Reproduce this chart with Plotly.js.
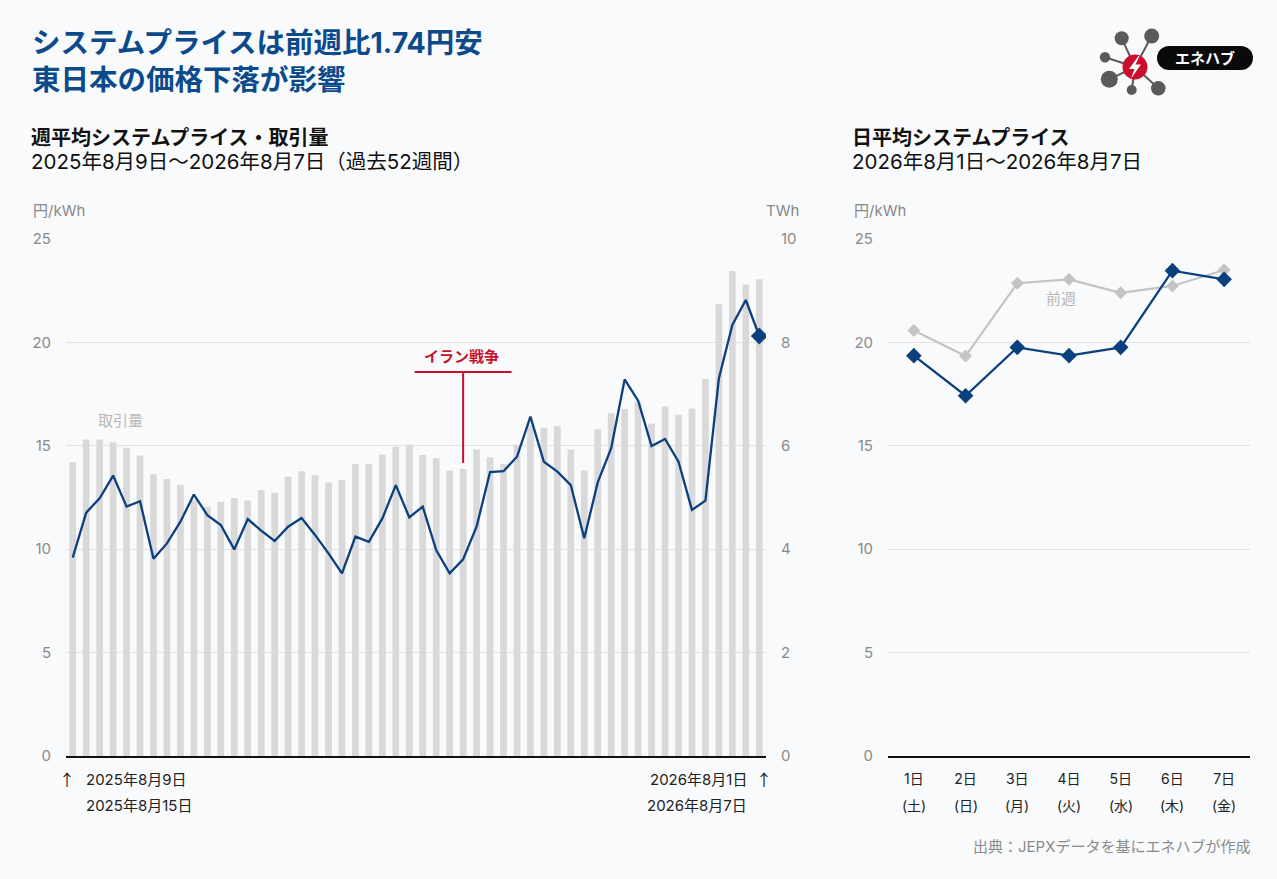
<!DOCTYPE html>
<html>
<head>
<meta charset="utf-8">
<script src="https://cdn.plot.ly/plotly-3.0.1.min.js"></script>
<style>
  html, body { margin: 0; padding: 0; background: #f9fafb; }
  #chart { width: 1277px; height: 879px; }
</style>
</head>
<body>
<div id="chart"></div>
<script>
// ---------- data ----------
// weekly traded volume (TWh), 52 weeks 2025-08-09 .. 2026-08-07
const weeklyVolume = [5.68, 6.12, 6.12, 6.07, 5.96, 5.81, 5.45, 5.36, 5.24, 4.95,
  4.82, 4.92, 4.99, 4.94, 5.14, 5.09, 5.40, 5.51, 5.43, 5.29,
  5.34, 5.65, 5.65, 5.83, 5.98, 6.02, 5.82, 5.76, 5.52, 5.55,
  5.93, 5.78, 5.65, 6.02, 6.40, 6.35, 6.38, 5.93, 5.52, 6.32,
  6.63, 6.71, 6.85, 6.43, 6.76, 6.60, 6.72, 7.29, 8.74, 9.38,
  9.12, 9.22];
// weekly average system price (yen/kWh)
const weeklyPrice = [9.59, 11.77, 12.46, 13.56, 12.06, 12.32, 9.54, 10.28, 11.33, 12.64,
  11.65, 11.17, 9.99, 11.46, 10.90, 10.40, 11.09, 11.51, 10.69, 9.80,
  8.83, 10.61, 10.36, 11.49, 13.10, 11.54, 12.06, 9.96, 8.83, 9.51,
  11.09, 13.73, 13.77, 14.47, 16.41, 14.23, 13.75, 13.10, 10.53, 13.23,
  14.88, 18.21, 17.18, 14.99, 15.33, 14.23, 11.90, 12.35, 18.26, 20.84,
  22.05, 20.31];
const weekIndex = weeklyVolume.map((_, i) => i);
const iranWarWeek = 29;

// daily average system price
const days = ['1日', '2日', '3日', '4日', '5日', '6日', '7日'];
const weekdays = ['(土)', '(日)', '(月)', '(火)', '(水)', '(木)', '(金)'];
const dailyThisWeek = [19.36, 17.42, 19.76, 19.36, 19.76, 23.47, 23.05];
const dailyPrevWeek = [20.57, 19.34, 22.86, 23.05, 22.40, 22.73, 23.50];

const priceTicks = [0, 5, 10, 15, 20, 25];
const volumeTicks = [0, 2, 4, 6, 8, 10];

// ---------- helpers ----------
const W = 1277, H = 879;
const FONT = 'Inter, "Noto Sans CJK JP", sans-serif';
const CJK = '"Noto Sans CJK JP", sans-serif';
const BLUE = '#0b3f7d';
const TITLE_BLUE = '#0c4a8c';
const RED = '#c8102e';
const px = x => x / W;
const py = y => 1 - y / H;

function txt(text, x, y, opts) {
  opts = opts || {};
  return Object.assign({
    text: text, xref: 'paper', yref: 'paper', x: px(x), y: py(y),
    xanchor: 'left', yanchor: 'middle', showarrow: false,
    font: { family: FONT, size: 15, color: '#222' }
  }, opts);
}
function circ(cx, cy, r, color) {
  return { type: 'circle', xref: 'paper', yref: 'paper',
    x0: px(cx - r), x1: px(cx + r), y0: py(cy + r), y1: py(cy - r),
    fillcolor: color, line: { width: 0 } };
}
function seg(x0, y0, x1, y1, color, w) {
  return { type: 'line', xref: 'paper', yref: 'paper',
    x0: px(x0), y0: py(y0), x1: px(x1), y1: py(y1),
    line: { color: color, width: w } };
}

const yDom = [py(756), py(239)];

// ---------- traces ----------
const traces = [
  {
    type: 'bar', x: weekIndex, y: weeklyVolume, xaxis: 'x', yaxis: 'y',
    marker: { color: '#d9d9d9' }, width: 0.5, hoverinfo: 'skip'
  },
  {
    type: 'scatter', mode: 'lines+markers', x: weekIndex, y: weeklyPrice,
    xaxis: 'x', yaxis: 'y2',
    line: { color: BLUE, width: 2.3 },
    marker: { symbol: 'diamond', color: BLUE, opacity: 1, line: { width: 0 },
      size: weeklyPrice.map((_, i) => i === weeklyPrice.length - 1 ? 13 : 0) },
    hoverinfo: 'skip'
  },
  {
    type: 'scatter', mode: 'lines+markers', x: days, y: dailyPrevWeek,
    xaxis: 'x3', yaxis: 'y3',
    line: { color: '#c4c4c4', width: 2.2 },
    marker: { symbol: 'diamond', color: '#c4c4c4', size: 10 },
    hoverinfo: 'skip'
  },
  {
    type: 'scatter', mode: 'lines+markers', x: days, y: dailyThisWeek,
    xaxis: 'x3', yaxis: 'y3',
    line: { color: BLUE, width: 2.3 },
    marker: { symbol: 'diamond', color: BLUE, size: 12 },
    hoverinfo: 'skip'
  }
];

// ---------- annotations ----------
const ann = [
  txt('システムプライスは前週比1.74円安', 30, 43,
    { font: { family: FONT, size: 28.5, color: TITLE_BLUE, weight: 700 } }),
  txt('東日本の価格下落が影響', 30, 79,
    { font: { family: FONT, size: 28.5, color: TITLE_BLUE, weight: 700 } }),
  txt('週平均システムプライス・取引量', 29, 138,
    { font: { family: FONT, size: 20, color: '#111', weight: 700 } }),
  txt('2025年8月9日〜2026年8月7日（過去52週間）', 29, 162,
    { font: { family: FONT, size: 20.5, color: '#111' } }),
  txt('日平均システムプライス', 850, 138,
    { font: { family: FONT, size: 20, color: '#111', weight: 700 } }),
  txt('2026年8月1日〜2026年8月7日', 850, 162,
    { font: { family: FONT, size: 20.5, color: '#111' } }),
  txt('円/kWh', 31, 211, { font: { family: FONT, size: 15, color: '#888' } }),
  txt('TWh', 801, 211, { xanchor: 'right', font: { family: FONT, size: 15, color: '#888' } }),
  txt('円/kWh', 852, 211, { font: { family: FONT, size: 15, color: '#888' } }),
  txt('↑', 67, 779, { xanchor: 'center', font: { family: CJK, size: 16, color: '#222' } }),
  txt('2025年8月9日', 84, 779),
  txt('2025年8月15日', 84, 805),
  txt('2026年8月1日', 749, 779, { xanchor: 'right' }),
  txt('↑', 764, 779, { xanchor: 'center', font: { family: CJK, size: 16, color: '#222' } }),
  txt('2026年8月7日', 749, 805, { xanchor: 'right' }),
  txt('取引量', 120, 420, { xanchor: 'center', font: { family: FONT, size: 15, color: '#b8b8b8' } }),
  txt('前週', 1061, 298, { xanchor: 'center', font: { family: FONT, size: 15, color: '#b8b8b8' } }),
  txt('イラン戦争', 462, 356, { xanchor: 'center',
    font: { family: FONT, size: 15, color: RED, weight: 700 } }),
  txt('出典：JEPXデータを基にエネハブが作成', 1252, 846, { xanchor: 'right',
    font: { family: FONT, size: 15, color: '#8a8a8a' } }),
  txt('エネハブ', 1205, 59, { xanchor: 'center',
    font: { family: FONT, size: 15, color: '#fff', weight: 700 } })
];
// weekday labels under the daily axis
days.forEach((d, i) => {
  ann.push({ text: weekdays[i], xref: 'x3', yref: 'paper', x: d, y: py(805),
    xanchor: 'center', yanchor: 'middle', showarrow: false,
    font: { family: FONT, size: 14, color: '#222' } });
});

// ---------- shapes ----------
const logoCx = 1135, logoCy = 67;
const nodes = [[1121.7, 38.3, 7], [1151.7, 36, 7.5], [1105, 57.3, 5.2],
               [1109.3, 79.3, 8.5], [1131.7, 90, 5], [1158.3, 88.3, 7.3]];
const shapes = [
  // Iran war marker
  { type: 'line', xref: 'x', yref: 'y2', x0: iranWarWeek - 3.6, x1: iranWarWeek + 3.6,
    y0: 18.57, y1: 18.57, line: { color: RED, width: 2 } },
  { type: 'line', xref: 'x', yref: 'y2', x0: iranWarWeek, x1: iranWarWeek,
    y0: 18.57, y1: 14.17, line: { color: RED, width: 2 } }
];
nodes.forEach(n => shapes.push(seg(logoCx, logoCy, n[0], n[1], '#5a5a5a', 2)));
nodes.forEach(n => shapes.push(circ(n[0], n[1], n[2], '#5a5a5a')));
shapes.push(circ(logoCx, logoCy, 12.5, RED));
// lightning bolt
const bolt = [[1138.5, 56], [1129, 69], [1134.5, 69], [1131, 78.5], [1141, 64.5], [1135.5, 64.5], [1139.5, 56]];
shapes.push({ type: 'path', xref: 'paper', yref: 'paper',
  path: 'M ' + bolt.map(p => px(p[0]) + ',' + py(p[1])).join(' L ') + ' Z',
  fillcolor: '#fff', line: { width: 0 } });
// pill
shapes.push({ type: 'rect', xref: 'paper', yref: 'paper',
  x0: px(1169), x1: px(1241), y0: py(70), y1: py(46), fillcolor: '#0a0a0a', line: { width: 0 } });
shapes.push(circ(1169, 58, 12, '#0a0a0a'));
shapes.push(circ(1241, 58, 12, '#0a0a0a'));

// ---------- layout ----------
const tickFont = { family: FONT, size: 15, color: '#8a8a8a' };
const layout = {
  width: W, height: H,
  margin: { l: 0, r: 0, t: 0, b: 0 },
  paper_bgcolor: '#f9fafb', plot_bgcolor: 'rgba(0,0,0,0)',
  showlegend: false,
  bargap: 0.5,
  xaxis: { domain: [px(66), px(766)], range: [-0.5, 51.5], anchor: 'y',
    showticklabels: false, showgrid: false, zeroline: false,
    showline: true, linecolor: '#111', linewidth: 2, ticks: '' },
  yaxis: { domain: yDom, range: [0, 10], tickvals: volumeTicks, side: 'right', anchor: 'x',
    showgrid: false, zeroline: false, showline: false, ticks: '',
    tickfont: tickFont, ticklabelstandoff: 14 },
  yaxis2: { range: [0, 25], tickvals: priceTicks, overlaying: 'y', side: 'left', anchor: 'x',
    showgrid: true, gridcolor: '#e2e2e2', gridwidth: 1,
    zeroline: false, showline: false, ticks: '',
    tickfont: tickFont, ticklabelstandoff: 14 },
  xaxis3: { domain: [px(888), px(1250)], anchor: 'y3', type: 'category', range: [-0.5, 6.5],
    showgrid: false, zeroline: false, showline: true, linecolor: '#111', linewidth: 2, ticks: '',
    tickfont: { family: FONT, size: 14, color: '#222' }, ticklabelstandoff: 9 },
  yaxis3: { domain: yDom, anchor: 'x3', range: [0, 25], tickvals: priceTicks,
    showgrid: true, gridcolor: '#e2e2e2', gridwidth: 1,
    zeroline: false, showline: false, ticks: '',
    tickfont: tickFont, ticklabelstandoff: 14 },
  annotations: ann,
  shapes: shapes
};

Plotly.newPlot('chart', traces, layout, { staticPlot: true, displayModeBar: false });
</script>
</body>
</html>
